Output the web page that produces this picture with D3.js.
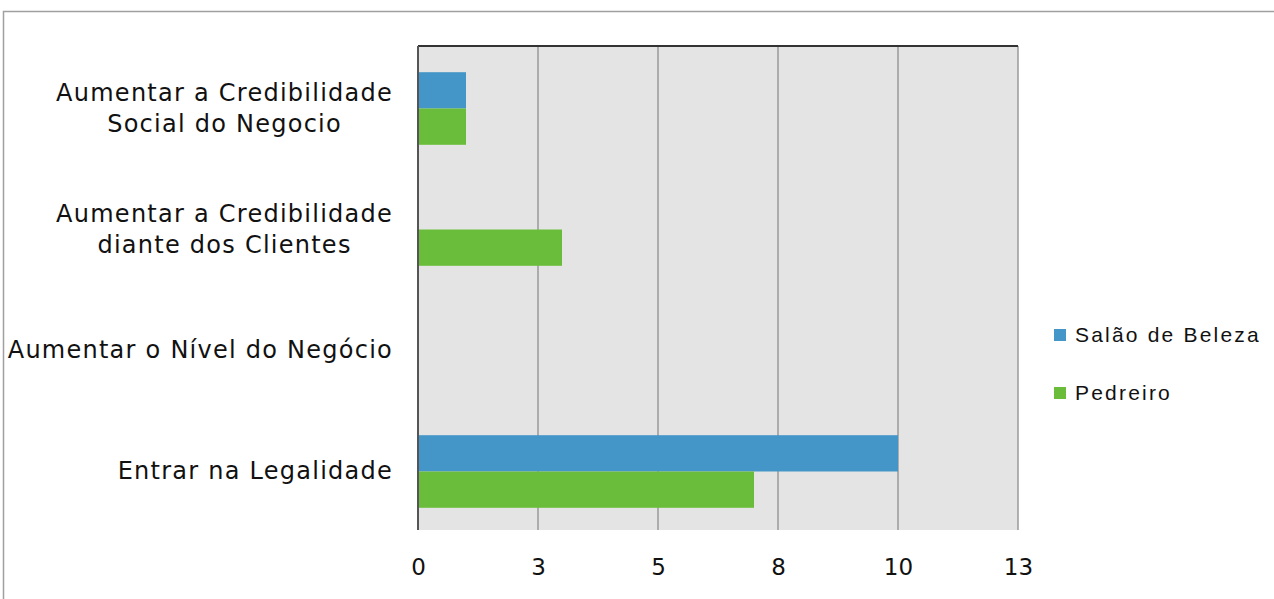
<!DOCTYPE html>
<html><head><meta charset="utf-8">
<script src="https://cdn.jsdelivr.net/npm/d3@7"></script>
<style>body{margin:0;background:#fff}svg{display:block}</style>
</head><body><svg id="c" width="1274" height="599"></svg>
<script>
const categories = [
  ["Aumentar a Credibilidade", "Social do Negocio"],
  ["Aumentar a Credibilidade", "diante dos Clientes"],
  ["Aumentar o Nível do Negócio"],
  ["Entrar na Legalidade"]
];
const seriesNames = ["Salão de Beleza", "Pedreiro"];
const salaoValues = [1, 0, 0, 10];
const pedreiroValues = [1, 3, 0, 7];
const tickValues = [0, 2.5, 5, 7.5, 10, 12.5];
const tickLabels = ["0", "3", "5", "8", "10", "13"];
const colors = ["#4596c8", "#6abd3a"];

const svg = d3.select("#c");
// outer frame
svg.append("path").attr("d", "M3.5,599 V11.5 H1274").attr("fill", "none").attr("stroke", "#a0a0a0").attr("stroke-width", 1.5);

const pLeft = 418, pRight = 1018, pTop = 46, pBottom = 530;
const x = d3.scaleLinear().domain([0, 12.5]).range([pLeft, pRight]);
const y = d3.scaleBand().domain(d3.range(categories.length)).range([48, 532]).paddingInner(0.4).paddingOuter(0.2);
const y1 = d3.scaleBand().domain([0, 1]).range([0, y.bandwidth()]);

svg.append("rect").attr("x", pLeft).attr("y", pTop).attr("width", pRight - pLeft).attr("height", pBottom - pTop).attr("fill", "#e4e4e4");

// gridlines
svg.append("g").selectAll("line").data(tickValues.slice(1)).join("line")
  .attr("x1", d => x(d)).attr("x2", d => x(d)).attr("y1", pTop).attr("y2", pBottom)
  .attr("stroke", "#9a9a9a").attr("stroke-width", 1.5);

const series = [salaoValues, pedreiroValues];
series.forEach((vals, si) => {
  svg.append("g").selectAll("rect").data(vals).join("rect")
    .attr("x", x(0)).attr("y", (d, i) => y(i) + y1(si))
    .attr("width", d => x(d) - x(0)).attr("height", y1.bandwidth())
    .attr("fill", colors[si]);
});

// top border and left axis
svg.append("line").attr("x1", pLeft).attr("x2", pRight).attr("y1", pTop).attr("y2", pTop).attr("stroke", "#333").attr("stroke-width", 2);
svg.append("line").attr("x1", pLeft).attr("x2", pLeft).attr("y1", pTop).attr("y2", pBottom).attr("stroke", "#555").attr("stroke-width", 2);

// x axis labels
const xAxis = d3.axisBottom(x).tickValues(tickValues).tickFormat((d, i) => tickLabels[i]).tickSize(0).tickPadding(0);
const gx = svg.append("g").attr("transform", `translate(0,575)`).call(xAxis);
gx.select(".domain").remove();
gx.selectAll("text").attr("font-family", "DejaVu Sans").attr("font-size", 23).attr("fill", "#111").attr("dy", 0).attr("y", 0);

// category labels: block right-aligned, lines centred within block
const yl = svg.append("g").selectAll("text").data(categories).join("text")
  .attr("text-anchor", "middle").attr("font-family", "DejaVu Sans").attr("font-size", 24).attr("fill", "#111")
  .attr("letter-spacing", 1.25);
yl.each(function(lines, i) {
  const cy = y(i) + y.bandwidth() / 2;
  const n = lines.length;
  const ts = d3.select(this).selectAll("tspan").data(lines).join("tspan")
    .attr("y", (d, j) => cy + 7.5 + (j - (n - 1) / 2) * 31).text(d => d);
  let maxW = 0;
  ts.each(function() { maxW = Math.max(maxW, this.getComputedTextLength()); });
  ts.attr("x", 393 - maxW / 2);
});

// legend
const lg = svg.append("g").selectAll("g").data(seriesNames).join("g")
  .attr("transform", (d, i) => `translate(1054,${342 + i * 58})`);
lg.append("rect").attr("x", 0).attr("y", -13).attr("width", 12).attr("height", 12).attr("fill", (d, i) => colors[i]);
lg.append("text").attr("x", 21).attr("y", 0).attr("font-family", "Liberation Sans, Arial").attr("font-size", 21)
  .attr("letter-spacing", 2.2).attr("fill", "#111").text(d => d);
</script>
</body></html>
